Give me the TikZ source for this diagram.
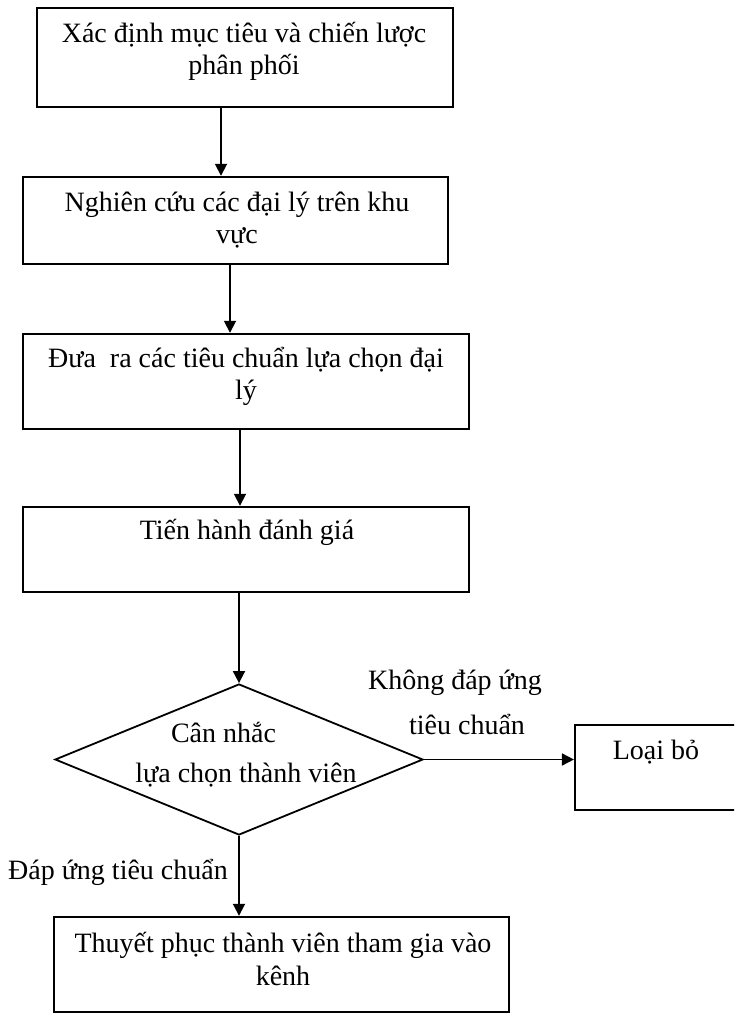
\documentclass[tikz,border=0pt]{standalone}
\usepackage{fontspec}
\setmainfont{Liberation Serif}
\usetikzlibrary{arrows.meta, shapes.geometric}
\tikzset{
    stepbox/.style={draw, line width=1.2pt, inner sep=0pt},
    decision/.style={diamond, draw, line width=0.9pt, inner sep=0pt},
    steptext/.style={font=\fontsize{14pt}{16.1pt}\selectfont, align=center, inner sep=0pt, anchor=base},
    flow/.style={line width=0.9pt, -{Triangle[length=6pt, width=6pt]}}
}

\begin{document}
\begin{tikzpicture}[x=0.5pt, y=-0.5pt]
    \useasboundingbox (0,0) rectangle (734,1015);
    \clip (0,0) rectangle (734,1015);
    \node[stepbox, minimum width=208pt, minimum height=49.5pt] (define) at (245,57.5) {};
    \node[stepbox, minimum width=212.5pt, minimum height=43.5pt] (research) at (235.5,220.5) {};
    \node[stepbox, minimum width=223pt, minimum height=47.5pt] (criteria) at (246,381.5) {};
    \node[stepbox, minimum width=223pt, minimum height=42.5pt] (assess) at (246,549.5) {};
    \node[decision, minimum width=184pt, minimum height=75.5pt] (decide) at (239,759.5) {};
    \node[stepbox, line width=1.1pt, minimum width=92.5pt, minimum height=42.5pt] (reject) at (667.5,767.5) {};
    \node[stepbox, minimum width=227.5pt, minimum height=47.5pt] (persuade) at (281.5,964.5) {};
    \node[steptext] (define-txt) at (244,75) {Xác định mục tiêu và chiến lược\\phân phối};
    \node[steptext] (research-txt) at (237,244) {Nghiên cứu các đại lý trên khu\\vực};
    \node[steptext] (criteria-txt) at (246,400) {Đưa\ \ ra các tiêu chuẩn lựa chọn đại\\lý};
    \node[steptext] (assess-txt) at (247,539) {Tiến hành đánh giá};
    \node[steptext] (decide-txt) at (246,782) {\hspace*{-22.5pt}Cân nhắc\\[3.9pt]lựa chọn thành viên};
    \node[steptext] (reject-txt) at (656,759) {Loại bỏ};
    \node[steptext] (persuade-txt) at (283,985) {Thuyết phục thành viên tham gia vào\\kênh};
    \node[steptext] (no-lbl) at (455,734) {Không đáp ứng\\[6.4pt]\hspace*{12pt}tiêu chuẩn};
    \node[steptext] (yes-lbl) at (118,879) {Đáp ứng tiêu chuẩn};
    \draw[flow] (define.south -| 221,0) -- (research.north -| 221,0);
    \draw[flow] (research.south -| 230,0) -- (criteria.north -| 230,0);
    \draw[flow] (criteria.south -| 240,0) -- (assess.north -| 240,0);
    \draw[flow] (assess.south -| decide.north) -- (decide.north);
    \draw[flow] (decide.east) -- (reject.west |- decide.east);
    \draw[flow] (decide.south) -- (persuade.north -| decide.south);
\end{tikzpicture}
\end{document}
